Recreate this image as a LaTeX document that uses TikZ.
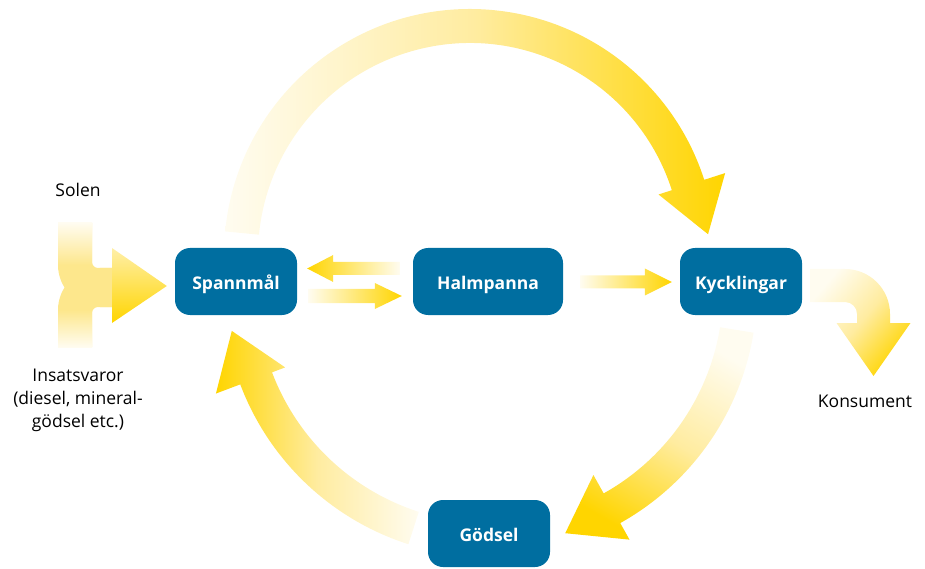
\documentclass[tikz,border=0pt]{standalone}
\usepackage{fontspec}
\setmainfont{Open Sans}
\usetikzlibrary{calc}
\definecolor{boxblue}{RGB}{0,110,160}
\definecolor{gold}{RGB}{255,213,0}
\definecolor{pale}{RGB}{255,252,240}
\definecolor{midyel}{RGB}{255,236,160}
\definecolor{lightyel}{RGB}{253,231,140}
\definecolor{headtop}{RGB}{255,239,168}
\begin{document}
\begin{tikzpicture}[x=1pt,y=1pt,
  box/.style={fill=boxblue, rounded corners=15pt, minimum width=122pt, minimum height=67pt,
    inner sep=0pt, text=white, text height=15pt, text depth=0pt,
    font=\fontsize{17.5}{20}\selectfont\bfseries},
  lbl/.style={font=\fontsize{17.5}{23}\selectfont, align=center, text=black}]
\useasboundingbox (0,0) rectangle (925,568);

% ---- boxes
\node[box] (spann) at (236,286.5) {Spannmål};
\node[box, minimum width=150pt] (halm) at (488,286.5) {Halmpanna};
\node[box] (kyck)  at (741,286.5) {Kycklingar};
\node[box] (gods)  at (489,34.5)  {Gödsel};

% ---- labels
\node[lbl] (solen)  at (78,378) {Solen};
\node[lbl] (insats) at (78,168) {Insatsvaror\\(diesel, mineral-\\gödsel etc.)};
\node[lbl] (kons)   at (865,167) {Konsument};

% ---- top arc Spannmål -> Kycklingar
\coordinate (ctop) at (470,313);
\shade[left color=pale, right color=gold, middle color=midyel]
  ($(ctop)+(174.5:246)$) arc[start angle=174.5, end angle=17.8, radius=246]
  -- ($(ctop)+(17.8:268)$) -- ($(ctop)+(17.8:233)+(-72.2:53)$) -- ($(ctop)+(17.8:198)$)
  -- ($(ctop)+(17.8:212)$) arc[start angle=17.8, end angle=174.5, radius=212] -- cycle;

% ---- bottom arcs
\coordinate (cbot) at (490,278);
% Kycklingar -> Gödsel
\shade[top color=pale, bottom color=gold, middle color=midyel, shading angle=-30]
  ($(cbot)+(-9.2:267)$) arc[start angle=-9.2, end angle=-60.8, radius=267]
  -- ($(cbot)+(-60.8:286)$) -- ($(cbot)+(-60.8:249)+(-150.8:53)$) -- ($(cbot)+(-60.8:212)$)
  -- ($(cbot)+(-60.8:233)$) arc[start angle=-60.8, end angle=-9.2, radius=233] -- cycle;
% Gödsel -> Spannmål
\shade[left color=gold, right color=pale, middle color=midyel]
  ($(cbot)+(252.2:267)$) arc[start angle=252.2, end angle=200.7, radius=267]
  -- ($(cbot)+(200.7:293)$) -- ($(cbot)+(200.7:256)+(110.7:53)$) -- ($(cbot)+(200.7:219)$)
  -- ($(cbot)+(200.7:233)$) arc[start angle=200.7, end angle=252.2, radius=233] -- cycle;

% ---- straight arrows
\coordinate (hs0) at ($(halm.west)+(-13,13)$);
\coordinate (hs1) at ($(spann.east)+(10,13)$);
\shade[left color=gold, right color=pale]
  ($(hs0)+(0,6.5)$) -- ($(hs1)+(26,6.5)$) -- ($(hs1)+(26,13.5)$) -- (hs1)
  -- ($(hs1)+(26,-13.5)$) -- ($(hs1)+(26,-6.5)$) -- ($(hs0)+(0,-6.5)$) -- cycle;

\coordinate (sh0) at ($(spann.east)+(11,-14.5)$);
\coordinate (sh1) at ($(halm.west)+(-11,-14.5)$);
\shade[left color=pale, right color=gold]
  ($(sh0)+(0,7)$) -- ($(sh1)+(-27,7)$) -- ($(sh1)+(-27,13)$) -- (sh1)
  -- ($(sh1)+(-27,-13)$) -- ($(sh1)+(-27,-7)$) -- ($(sh0)+(0,-7)$) -- cycle;

\coordinate (hk0) at ($(halm.east)+(17,-0.5)$);
\coordinate (hk1) at ($(kyck.west)+(-8,-0.5)$);
\shade[left color=pale, right color=gold]
  ($(hk0)+(0,6.5)$) -- ($(hk1)+(-27,6.5)$) -- ($(hk1)+(-27,13.5)$) -- (hk1)
  -- ($(hk1)+(-27,-13.5)$) -- ($(hk1)+(-27,-6.5)$) -- ($(hk0)+(0,-6.5)$) -- cycle;

% ---- Kycklingar -> Konsument
\coordinate (k0) at ($(kyck.east)+(8,0)$);
\shade[top color=pale, bottom color=gold, middle color=midyel, shading angle=50]
  ($(k0)+(0,12.5)$) -- (845,299) arc[start angle=90, end angle=0, radius=45]
  -- (890,245) -- (910.5,245) -- (873.5,192) -- (836.5,245) -- (857,245) -- (857,254)
  arc[start angle=0, end angle=90, radius=12] -- ($(k0)+(0,-20.5)$) -- cycle;

% ---- Solen + Insatsvaror -> Spannmål
\fill[lightyel] (58,345) -- (92,345) -- (92,306) arc[start angle=180, end angle=270, radius=6]
  -- (112,300) -- (112,261) -- (100,261) arc[start angle=270, end angle=180, radius=42] -- cycle;
\fill[lightyel] (58,221) -- (92,221) -- (92,255) arc[start angle=180, end angle=90, radius=6]
  -- (112,261) -- (112,300) -- (100,300) arc[start angle=90, end angle=180, radius=42] -- cycle;
\shade[top color=pale, bottom color=lightyel] (58,345) rectangle (92,303);
\shade[top color=lightyel, bottom color=pale] (58,258) rectangle (92,221);
\coordinate (sp0) at ($(spann.west)+(-8,-4.5)$);
\shade[top color=headtop, bottom color=gold] (112,320) -- (sp0) -- (112,245) -- cycle;

\end{tikzpicture}
\end{document}
